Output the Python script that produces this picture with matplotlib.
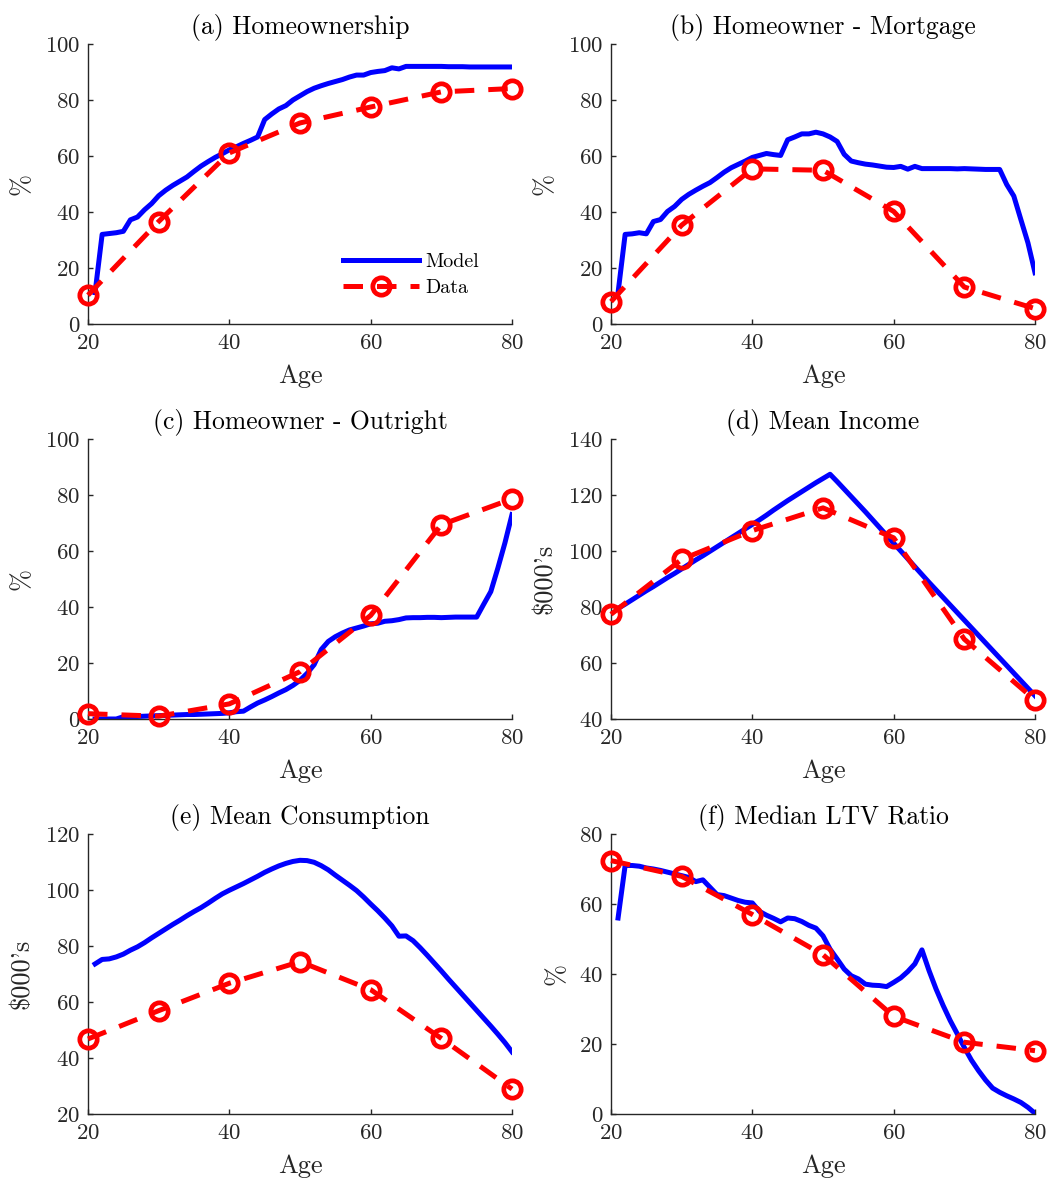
import numpy as np
import matplotlib
matplotlib.use("Agg")
import matplotlib.pyplot as plt

plt.rcParams["font.family"] = "serif"
plt.rcParams["font.serif"] = ["cmr10"]
plt.rcParams["mathtext.fontset"] = "cm"
plt.rcParams["axes.formatter.use_mathtext"] = True

# Life-cycle profiles by age
model_age = np.arange(21, 81)
data_age = [20, 30, 40, 50, 60, 70, 80]

own_model = [11.2, 32.0, 32.3, 32.6, 33.1, 37.2, 38.2, 40.8, 43.0, 45.8,
             47.8, 49.5, 51.0, 52.5, 54.5, 56.4, 58.0, 59.5, 60.8, 62.2,
             63.3, 64.5, 65.6, 66.8, 73.0, 75.0, 76.8, 78.0, 80.0, 81.5,
             83.0, 84.2, 85.1, 85.9, 86.6, 87.3, 88.2, 88.9, 88.9, 89.8,
             90.2, 90.5, 91.5, 91.1, 92.0, 92.0, 92.0, 92.0, 92.0, 92.0,
             91.9, 91.9, 91.9, 91.8, 91.8, 91.8, 91.8, 91.8, 91.8, 91.8]
own_data = [10.3, 36.6, 61.1, 71.8, 77.5, 82.9, 84.1]

mort_model = [11.2, 32.0, 32.2, 32.6, 32.2, 36.6, 37.3, 40.2, 42.0, 44.5,
              46.3, 47.8, 49.2, 50.5, 52.3, 54.2, 55.8, 57.0, 58.2, 59.5,
              60.2, 60.9, 60.5, 60.2, 65.8, 66.8, 67.9, 67.9, 68.5, 67.9,
              66.8, 65.2, 60.6, 58.2, 57.6, 57.1, 56.8, 56.4, 56.0, 55.9,
              56.3, 55.3, 56.3, 55.5, 55.5, 55.5, 55.5, 55.5, 55.4, 55.5,
              55.4, 55.3, 55.2, 55.2, 55.2, 49.8, 45.7, 37.3, 29.0, 18.3]
mort_data = [8.0, 35.3, 55.4, 54.9, 40.2, 13.2, 5.5]

out_model = [0.0, 0.0, 0.0, 0.0, 0.8, 0.9, 0.9, 1.0, 1.1, 1.2,
             1.3, 1.4, 1.5, 1.6, 1.6, 1.7, 1.8, 1.9, 2.0, 2.2,
             2.6, 2.8, 4.3, 5.7, 6.8, 8.0, 9.3, 10.5, 12.0, 13.8,
             16.3, 19.4, 24.8, 27.7, 29.4, 30.7, 31.8, 32.5, 33.2, 34.0,
             34.2, 34.9, 35.1, 35.5, 36.1, 36.2, 36.2, 36.3, 36.3, 36.2,
             36.3, 36.4, 36.4, 36.4, 36.4, 41.0, 45.5, 53.9, 62.9, 73.0]
out_data = [1.9, 1.0, 5.4, 16.9, 37.0, 69.4, 78.6]

inc_model = [79.5, 81.0, 82.6, 84.2, 85.8, 87.3, 88.9, 90.5, 92.0, 93.6,
             95.2, 96.8, 98.3, 99.9, 101.5, 103.1, 104.7, 106.3, 107.9, 109.5,
             111.1, 112.8, 114.6, 116.3, 118.0, 119.6, 121.2, 122.8, 124.4, 125.9,
             127.4, 124.8, 122.1, 119.4, 116.7, 114.0, 111.2, 108.4, 105.6, 102.8,
             100.0, 97.2, 94.4, 91.6, 88.8, 86.1, 83.4, 80.7, 78.0, 75.3,
             72.6, 69.9, 67.2, 64.5, 61.8, 59.1, 56.4, 53.7, 51.0, 48.3]
inc_data = [77.4, 97.0, 107.3, 115.4, 104.7, 68.5, 46.8]

cons_model = [73.6, 75.2, 75.4, 76.1, 77.1, 78.5, 79.7, 81.2, 82.9, 84.5,
              86.1, 87.7, 89.2, 90.8, 92.3, 93.7, 95.3, 97.0, 98.6, 99.9,
              101.1, 102.3, 103.6, 104.9, 106.3, 107.5, 108.6, 109.5, 110.2, 110.6,
              110.5, 109.9, 108.7, 107.2, 105.3, 103.5, 101.7, 99.8, 97.5, 95.0,
              92.6, 90.0, 87.2, 83.5, 83.6, 81.9, 79.4, 76.7, 73.9, 71.1,
              68.2, 65.4, 62.6, 59.8, 57.0, 54.2, 51.4, 48.5, 45.5, 42.2]
cons_data = [46.8, 56.9, 66.7, 74.4, 64.4, 47.0, 28.9]

ltv_model = [56.0, 71.0, 71.0, 70.8, 70.3, 70.0, 69.6, 69.1, 68.6, 68.1,
             67.6, 66.4, 66.9, 64.8, 62.7, 62.4, 61.7, 61.0, 60.5, 60.3,
             57.9, 56.8, 55.9, 54.9, 56.0, 55.8, 55.0, 53.9, 53.1, 50.9,
             47.1, 44.3, 41.4, 39.5, 38.6, 37.1, 36.8, 36.7, 36.4, 37.6,
             38.9, 40.7, 42.9, 46.9, 41.0, 35.7, 31.0, 26.7, 22.9, 19.0,
             15.4, 12.4, 9.7, 7.4, 6.2, 5.2, 4.3, 3.3, 1.9, 0.2]
ltv_data = [72.4, 67.9, 57.0, 45.5, 27.9, 20.5, 18.1]

titles = ["(a) Homeownership", "(b) Homeowner - Mortgage",
          "(c) Homeowner - Outright", "(d) Mean Income",
          "(e) Mean Consumption", "(f) Median LTV Ratio"]
ylabels = ["%", "%", "%", "$000's", "$000's", "%"]
ylims = [(0, 100), (0, 100), (0, 100), (40, 140), (20, 120), (0, 80)]
yticks = [np.arange(0, 101, 20), np.arange(0, 101, 20), np.arange(0, 101, 20),
          np.arange(40, 141, 20), np.arange(20, 121, 20), np.arange(0, 81, 20)]
models = [own_model, mort_model, out_model, inc_model, cons_model, ltv_model]
datas = [own_data, mort_data, out_data, inc_data, cons_data, ltv_data]

fig = plt.figure(figsize=(10.47, 11.79), dpi=100)
W, H = 1047, 1179
lefts = [88, 611]
tops = [44, 439, 834]
aw, ah = 424, 280
axis_col = "#262626"

for i in range(6):
    r, c = divmod(i, 2)
    ax = fig.add_axes([lefts[c] / W, 1 - (tops[r] + ah) / H, aw / W, ah / H])
    ax.plot(model_age, models[i], color="#0000FF", lw=3.6, solid_joinstyle="round",
            label="Model", zorder=2)
    ax.plot(data_age, datas[i], color="#FF0000", lw=3.6, linestyle=(0, (3.9, 2.8)),
            marker="o", ms=12.5, mew=3.4, mfc="none", mec="#FF0000",
            label="Data", clip_on=False, zorder=3)
    ax.set_xlim(20, 80)
    ax.set_ylim(*ylims[i])
    ax.set_xticks([20, 40, 60, 80])
    ax.set_yticks(yticks[i])
    for s in ["top", "right"]:
        ax.spines[s].set_visible(False)
    for s in ["left", "bottom"]:
        ax.spines[s].set_color(axis_col)
        ax.spines[s].set_linewidth(1.0)
    ax.tick_params(direction="in", length=3.5, width=1.0, color=axis_col,
                   labelcolor=axis_col, labelsize=16.4)
    ax.tick_params(axis="x", pad=7)
    ax.tick_params(axis="y", pad=5.5)
    ax.set_title(titles[i], fontsize=18.4, pad=7, color="black")
    ax.set_xlabel("Age", fontsize=19, labelpad=8, color=axis_col)
    ax.set_ylabel(ylabels[i], fontsize=19, labelpad=8, color=axis_col)
    if i == 0:
        ax.legend(loc="upper left", bbox_to_anchor=((343 - 88) / aw, (324 - 253) / ah),
                  frameon=False, fontsize=14.4, handlelength=3.8, handletextpad=0.3,
                  labelspacing=0.42, borderpad=0, borderaxespad=0, numpoints=1)

fig.savefig("out.png", dpi=100)
